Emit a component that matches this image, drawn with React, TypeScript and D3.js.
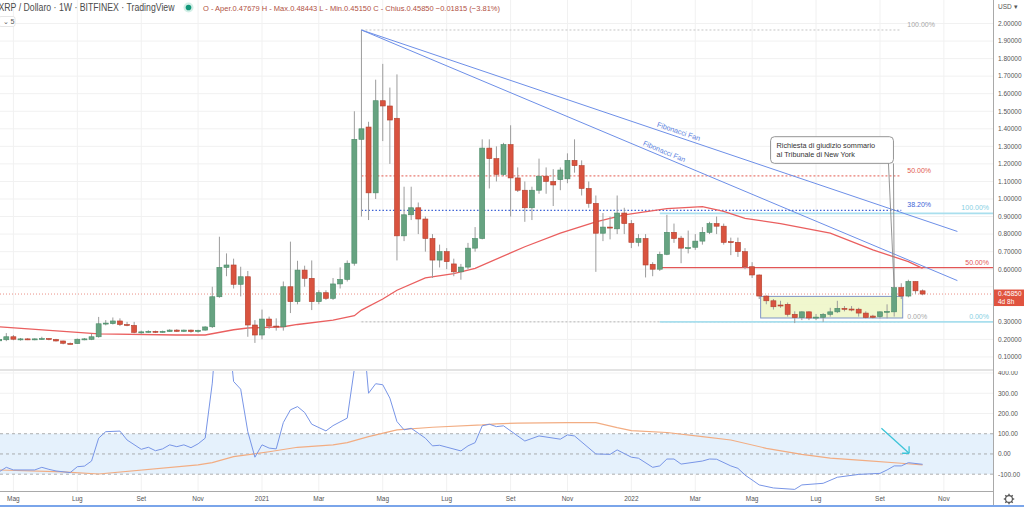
import * as d3 from "d3";

const WEEK = 7 * 24 * 3600 * 1000;
const firstWeek = Date.UTC(2020, 3, 20);

// weekly candles [open, high, low, close]
const candles: [number, number, number, number][] = [
  [0.192, 0.206, 0.186, 0.2], [0.198, 0.236, 0.19, 0.215], [0.215, 0.225, 0.195, 0.201], [0.2, 0.208, 0.193, 0.203],
  [0.203, 0.207, 0.196, 0.2], [0.199, 0.206, 0.195, 0.203], [0.203, 0.215, 0.198, 0.205], [0.205, 0.207, 0.195, 0.2],
  [0.2, 0.203, 0.188, 0.191], [0.191, 0.193, 0.172, 0.178], [0.177, 0.182, 0.172, 0.176], [0.176, 0.205, 0.174, 0.201],
  [0.2, 0.208, 0.195, 0.203], [0.2, 0.232, 0.196, 0.215], [0.215, 0.328, 0.21, 0.289], [0.289, 0.31, 0.28, 0.293],
  [0.29, 0.325, 0.285, 0.305], [0.305, 0.32, 0.276, 0.285], [0.285, 0.3, 0.275, 0.28], [0.28, 0.3, 0.235, 0.24],
  [0.241, 0.25, 0.232, 0.243], [0.242, 0.252, 0.238, 0.246], [0.246, 0.25, 0.236, 0.243], [0.242, 0.25, 0.238, 0.246],
  [0.245, 0.258, 0.243, 0.253], [0.253, 0.258, 0.243, 0.246], [0.246, 0.256, 0.242, 0.253], [0.253, 0.256, 0.238, 0.245],
  [0.245, 0.255, 0.238, 0.252], [0.253, 0.275, 0.25, 0.271], [0.272, 0.5, 0.265, 0.443], [0.443, 0.785, 0.437, 0.61],
  [0.61, 0.69, 0.56, 0.624], [0.624, 0.66, 0.49, 0.514], [0.514, 0.614, 0.445, 0.557], [0.557, 0.59, 0.215, 0.282],
  [0.282, 0.31, 0.18, 0.225], [0.225, 0.37, 0.2, 0.316], [0.316, 0.33, 0.26, 0.276], [0.276, 0.32, 0.25, 0.272],
  [0.272, 0.53, 0.25, 0.5], [0.5, 0.757, 0.35, 0.415], [0.415, 0.648, 0.4, 0.595], [0.595, 0.62, 0.5, 0.548],
  [0.548, 0.65, 0.367, 0.415], [0.415, 0.48, 0.4, 0.466], [0.466, 0.48, 0.425, 0.434], [0.434, 0.55, 0.425, 0.516],
  [0.516, 0.61, 0.49, 0.542], [0.542, 0.65, 0.53, 0.634], [0.634, 1.5, 0.62, 1.34], [1.34, 1.963, 0.9, 1.4],
  [1.41, 1.44, 0.88, 1.035], [1.035, 1.68, 1.0, 1.56], [1.56, 1.77, 1.33, 1.53], [1.53, 1.635, 1.2, 1.45],
  [1.46, 1.71, 0.65, 0.79], [0.79, 1.07, 0.76, 0.91], [0.91, 1.07, 0.88, 0.95], [0.95, 0.98, 0.8, 0.886],
  [0.886, 0.9, 0.7, 0.775], [0.775, 0.8, 0.55, 0.652], [0.652, 0.74, 0.61, 0.7], [0.7, 0.72, 0.6, 0.643],
  [0.63, 0.66, 0.56, 0.585], [0.585, 0.63, 0.54, 0.612], [0.612, 0.75, 0.6, 0.72], [0.72, 0.84, 0.7, 0.775],
  [0.775, 1.34, 0.77, 1.29], [1.29, 1.34, 1.06, 1.23], [1.23, 1.3, 1.1, 1.14], [1.14, 1.32, 1.13, 1.31],
  [1.31, 1.42, 0.9, 1.12], [1.12, 1.18, 1.04, 1.05], [1.05, 1.1, 0.87, 0.95], [0.95, 1.07, 0.88, 1.05],
  [1.05, 1.23, 1.03, 1.13], [1.13, 1.18, 1.03, 1.1], [1.1, 1.17, 0.96, 1.08], [1.11, 1.18, 1.05, 1.165],
  [1.115, 1.26, 1.09, 1.22], [1.22, 1.34, 1.15, 1.19], [1.19, 1.22, 1.02, 1.06], [1.06, 1.1, 0.95, 0.975],
  [0.975, 1.02, 0.585, 0.805], [0.805, 0.92, 0.76, 0.84], [0.84, 0.9, 0.77, 0.836], [0.83, 1.02, 0.8, 0.92],
  [0.92, 0.95, 0.8, 0.86], [0.86, 0.88, 0.72, 0.753], [0.753, 0.8, 0.73, 0.775], [0.775, 0.8, 0.553, 0.624],
  [0.628, 0.64, 0.56, 0.6], [0.6, 0.7, 0.59, 0.685], [0.685, 0.91, 0.68, 0.81], [0.81, 0.86, 0.75, 0.775],
  [0.777, 0.79, 0.634, 0.72], [0.72, 0.82, 0.69, 0.723], [0.725, 0.8, 0.71, 0.76], [0.76, 0.84, 0.74, 0.81],
  [0.81, 0.87, 0.8, 0.86], [0.86, 0.9, 0.8, 0.845], [0.845, 0.86, 0.74, 0.753], [0.757, 0.78, 0.68, 0.755],
  [0.753, 0.78, 0.67, 0.7], [0.7, 0.72, 0.6, 0.614], [0.614, 0.64, 0.55, 0.567], [0.567, 0.57, 0.43, 0.447],
  [0.447, 0.45, 0.4, 0.42], [0.42, 0.43, 0.37, 0.386], [0.396, 0.42, 0.38, 0.394], [0.4, 0.41, 0.33, 0.343],
  [0.343, 0.36, 0.293, 0.324], [0.324, 0.36, 0.31, 0.357], [0.357, 0.36, 0.31, 0.322], [0.326, 0.345, 0.31, 0.327],
  [0.326, 0.35, 0.3, 0.343], [0.343, 0.38, 0.33, 0.357], [0.357, 0.42, 0.35, 0.377], [0.377, 0.39, 0.36, 0.372],
  [0.373, 0.39, 0.36, 0.369], [0.372, 0.38, 0.33, 0.35], [0.35, 0.36, 0.32, 0.325], [0.333, 0.34, 0.32, 0.326],
  [0.33, 0.36, 0.32, 0.357], [0.355, 0.4, 0.32, 0.36], [0.357, 0.5, 0.33, 0.495], [0.495, 0.52, 0.43, 0.447],
  [0.447, 0.54, 0.44, 0.53], [0.53, 0.53, 0.46, 0.4768], [0.47679, 0.48443, 0.4515, 0.4585],
];

// red moving average (read at these weeks)
const maWeeks = [0, 14, 25, 29, 33, 35, 40, 42, 47, 50, 51, 54, 56, 60, 64, 67, 74, 79, 84, 88, 94, 99, 102, 105, 110, 117, 123, 128, 130];
const maValues = [0.272, 0.232, 0.225, 0.225, 0.255, 0.265, 0.272, 0.285, 0.31, 0.335, 0.367, 0.43, 0.48, 0.55, 0.575, 0.605, 0.728, 0.805, 0.87, 0.91, 0.945, 0.956, 0.93, 0.89, 0.86, 0.805, 0.71, 0.643, 0.605];

// lower pane oscillator (blue) and its average (orange)
const oscWeeks = [0, 1, 2, 5, 6, 7, 8, 10, 11, 12, 13, 14, 15, 17, 18, 20, 21, 22, 23, 24, 25, 26, 27, 28, 29, 30, 31, 32, 33, 34, 35, 36, 37, 38, 39, 40, 41, 42, 43, 44, 46, 47, 49, 50, 51, 52, 53, 54, 55, 56, 57, 58, 60, 61, 62, 65, 66, 67, 68, 69, 70, 71, 73, 74, 76, 79, 80, 81, 84, 86, 87, 89, 90, 92, 93, 94, 95, 96, 99, 100, 101, 103, 104, 105, 107, 109, 112, 113, 116, 118, 121, 124, 125, 126, 127, 128, 130];
const oscValues = [-88, -66, -79, -79, -66, -76, -84, -92, -63, -60, -35, 78, 110, 113, 69, 23, 33, 16, 25, 45, 36, 45, 31, 50, 78, 350, 800, 700, 358, 320, 110, -16, 45, 29, 25, 155, 218, 234, 205, 147, 114, 140, 177, 420, 700, 300, 347, 342, 276, 160, 119, 127, 78, 40, 43, 15, 40, 56, 139, 147, 135, 139, 89, 64, 89, 73, 94, 89, 0, -2, 20, -16, -21, -66, -59, -25, -25, -50, -35, -25, -26, -59, -71, -104, -153, -168, -175, -153, -145, -115, -101, -96, -79, -59, -59, -43, -51];
const sigWeeks = [0, 9, 14, 28, 30, 33, 38, 42, 47, 49, 52, 56, 61, 68, 70, 73, 80, 84, 87, 89, 94, 99, 103, 108, 113, 117, 122, 127, 130];
const sigValues = [-79, -89, -99, -54, -43, -13, 11, 33, 45, 56, 86, 119, 132, 144, 149, 152, 155, 155, 130, 115, 106, 86, 69, 28, -2, -21, -33, -46, -54];

const priceTicks = [0.1, 0.2, 0.3, 0.4, 0.5, 0.6, 0.7, 0.8, 0.9, 1.0, 1.1, 1.2, 1.3, 1.4, 1.5, 1.6, 1.7, 1.8, 1.9, 2.0];
const oscTicks = [400, 300, 200, 100, 0, -100];
const tickDates = ["2020-05-04", "2020-07-06", "2020-09-07", "2020-11-02", "2021-01-04", "2021-03-01", "2021-05-03", "2021-07-05", "2021-09-06", "2021-11-01", "2022-01-03", "2022-03-07", "2022-05-02", "2022-07-04", "2022-09-05", "2022-11-07"];
const tickLabels = ["Mag", "Lug", "Set", "Nov", "2021", "Mar", "Mag", "Lug", "Set", "Nov", "2022", "Mar", "Mag", "Lug", "Set", "Nov"];

// fibonacci drawings
const fib1 = { from: 51, to: 127, high: 1.963, low: 0.3 };
const fib1Levels = [1, 0.5, 0.382, 0];
const fib1Labels = ["100.00%", "50.00%", "38.20%", "0.00%"];
const fib1Colors = ["#c4c4c4", "#e25a4e", "#3d62d6", "#b8b8b8"];
const fib1TextColors = ["#a8a8a8", "#e25a4e", "#3d62d6", "#a8a8a8"];
const fib2 = { from: 93, high: 0.918, low: 0.3 };
const fib2Levels = [1, 0.5, 0];
const fib2Labels = ["100.00%", "50.00%", "0.00%"];
const fib2Colors = ["#a9dfee", "#e25555", "#a9dfee"];
const fib2TextColors = ["#86cfe3", "#e25555", "#86cfe3"];

const fanStart = { week: 51, price: 1.963 };
const fanEnds = [{ week: 134.9, price: 0.815 }, { week: 134.9, price: 0.535 }];
const fanLabelWeeks = [92.4, 90.4];

const lastPrice = 0.4585;
const rangeBox = { from: 107.2, to: 127.2, top: 0.445, bottom: 0.322 };
const callout = { from: 108.6, to: 125.9, top: 1.355, bottom: 1.203, tipWeek: 126, tipPrice: 0.495 };
const calloutText = ["Richiesta di giudizio sommario", "al Tribunale di New York"];
const oscArrow = { fromWeek: 124.2, fromValue: 127, toWeek: 128.1, toValue: 3.5 };

const FONT = "'Liberation Sans', Arial, sans-serif";

export default function App() {
  const W = 1024;
  const H = 507;
  const plotR = 993;
  const mainBottom = 370;
  const oscTop = 370.5;
  const oscBottom = 491;

  const x = d3
    .scaleUtc()
    .domain([new Date(firstWeek), new Date(firstWeek + 130 * WEEK)])
    .range([-0.8, -0.8 + 130 * 7.103]);
  const xw = (w: number) => x(new Date(firstWeek + w * WEEK));
  const y = d3.scaleLinear().domain([0, 2]).range([374.5, 23.5]);
  const yo = d3.scaleLinear().domain([-100, 400]).range([474.2, 373]);

  const maLine = d3
    .line<number>()
    .x((_, i) => xw(maWeeks[i]))
    .y((d) => y(d));
  const oscLine = d3
    .line<number>()
    .x((_, i) => xw(oscWeeks[i]))
    .y((d) => yo(d));
  const sigLine = d3
    .line<number>()
    .x((_, i) => xw(sigWeeks[i]))
    .y((d) => yo(d));

  const fanPts = fanEnds.map((e, i) => {
    const x1 = xw(fanStart.week);
    const y1 = y(fanStart.price);
    const x2 = xw(e.week);
    const y2 = y(e.price);
    const lx = xw(fanLabelWeeks[i]);
    const t = (lx - x1) / (x2 - x1);
    const ly = y1 + t * (y2 - y1);
    const ang = (Math.atan2(y2 - y1, x2 - x1) * 180) / Math.PI;
    return { x1, y1, x2, y2, lx, ly, ang };
  });

  const cbx1 = xw(callout.from);
  const cbx2 = xw(callout.to);
  const cby1 = y(callout.top);
  const cby2 = y(callout.bottom);

  const ax1 = xw(oscArrow.fromWeek);
  const ay1 = yo(oscArrow.fromValue);
  const ax2 = xw(oscArrow.toWeek);
  const ay2 = yo(oscArrow.toValue);

  // price label box on the axis hides the ticks beneath it
  const boxTop = y(lastPrice) - 4.5;
  const boxH = 16.5;
  const visibleTicks = priceTicks.filter((p) => y(p) < boxTop - 3 || y(p) > boxTop + boxH + 3);

  const gearTeeth = d3.range(8).map((k) => {
    const a = (k * Math.PI) / 4;
    return { x1: 1009 + Math.cos(a) * 3, y1: 499 + Math.sin(a) * 3, x2: 1009 + Math.cos(a) * 5.2, y2: 499 + Math.sin(a) * 5.2 };
  });

  return (
    <div style={{ position: "absolute", left: 0, top: 0 }}>
      <svg width={W} height={H} style={{ display: "block", fontFamily: FONT }}>
        <defs>
          <clipPath id="mainClip">
            <rect x={0} y={0} width={plotR} height={mainBottom} />
          </clipPath>
          <clipPath id="oscClip">
            <rect x={0} y={oscTop} width={plotR} height={oscBottom - oscTop} />
          </clipPath>
          <clipPath id="oscAxisClip">
            <rect x={plotR} y={oscTop + 0.5} width={W - plotR} height={oscBottom - oscTop} />
          </clipPath>
        </defs>
        <rect x={0} y={0} width={W} height={H} fill="#ffffff" />

        {/* grid */}
        {priceTicks.map((p) => (
          <line key={"hg" + p} x1={0} x2={plotR} y1={y(p)} y2={y(p)} stroke="#f1f1f1" strokeWidth={1} />
        ))}
        {oscTicks.slice(0, 3).map((v) => (
          <line key={"og" + v} x1={0} x2={plotR} y1={yo(v)} y2={yo(v)} stroke="#f1f1f1" strokeWidth={1} />
        ))}
        {tickDates.map((d) => (
          <line key={"vg" + d} x1={x(new Date(d))} x2={x(new Date(d))} y1={0} y2={oscBottom} stroke="#f1f1f1" strokeWidth={1} />
        ))}

        {/* oscillator pane */}
        <rect x={0} y={yo(100)} width={plotR} height={yo(-100) - yo(100)} fill="#e5f1fc" />
        {[100, 0, -100].map((v) => (
          <line key={"od" + v} x1={0} x2={plotR} y1={yo(v)} y2={yo(v)} stroke="#9a9a9a" strokeWidth={0.8} strokeDasharray="3,3" />
        ))}
        <g clipPath="url(#oscClip)">
          <path d={sigLine(sigValues) || ""} fill="none" stroke="#f2ad83" strokeWidth={1.2} />
          <path d={oscLine(oscValues) || ""} fill="none" stroke="#7895e6" strokeWidth={1} />
          <line x1={ax1} y1={ay1} x2={ax2} y2={ay2} stroke="#3ec4d8" strokeWidth={1.3} />
          <line x1={ax2} y1={ay2} x2={ax2} y2={ay2 - 7} stroke="#3ec4d8" strokeWidth={1.3} />
          <line x1={ax2} y1={ay2} x2={ax2 - 7} y2={ay2} stroke="#3ec4d8" strokeWidth={1.3} />
        </g>

        <g clipPath="url(#mainClip)">
          {/* fib retracement 1 */}
          {fib1Levels.map((r, i) => {
            const yy = y(fib1.low + r * (fib1.high - fib1.low));
            return (
              <g key={"f1" + i}>
                <line x1={xw(fib1.from)} x2={xw(fib1.to)} y1={yy} y2={yy} stroke={fib1Colors[i]} strokeWidth={i === 2 ? 1.4 : 1} strokeDasharray={i === 2 ? "1.5,2" : "2,2"} />
                <text x={xw(fib1.to) + 6} y={yy - 3} fontSize={7} fill={fib1TextColors[i]}>
                  {fib1Labels[i]}
                </text>
              </g>
            );
          })}
          {/* fib retracement 2 */}
          {fib2Levels.map((r, i) => {
            const yy = y(fib2.low + r * (fib2.high - fib2.low));
            return (
              <g key={"f2" + i}>
                <line x1={xw(fib2.from)} x2={plotR} y1={yy} y2={yy} stroke={fib2Colors[i]} strokeWidth={i === 1 ? 1.4 : 1.6} />
                <text x={989} y={yy - 3} fontSize={7} textAnchor="end" fill={fib2TextColors[i]}>
                  {fib2Labels[i]}
                </text>
              </g>
            );
          })}

          {/* last price line */}
          <line x1={0} x2={plotR} y1={y(lastPrice)} y2={y(lastPrice)} stroke="#e57368" strokeWidth={0.8} strokeDasharray="1,2" />

          {/* range box */}
          <rect
            x={xw(rangeBox.from)}
            y={y(rangeBox.top)}
            width={xw(rangeBox.to) - xw(rangeBox.from)}
            height={y(rangeBox.bottom) - y(rangeBox.top)}
            fill="#eef6c9"
            fillOpacity={0.9}
            stroke="#7f95c6"
            strokeWidth={1}
          />

          {/* moving average */}
          <path d={maLine(maValues) || ""} fill="none" stroke="#ea5f5f" strokeWidth={1.3} />

          {/* candles */}
          {candles.map(([o, h, l, c], i) => {
            const cx = xw(i);
            const up = c >= o;
            const top = y(Math.max(o, c));
            const bh = Math.max(1, y(Math.min(o, c)) - top);
            return (
              <g key={"c" + i}>
                <line x1={cx} x2={cx} y1={y(h)} y2={y(l)} stroke="#9c9c9c" strokeWidth={1} />
                <rect
                  x={cx - 2.5}
                  y={top}
                  width={5}
                  height={bh}
                  fill={up ? "#66a381" : "#d9533f"}
                  stroke={up ? "#4a8a67" : "#b23e2c"}
                  strokeWidth={0.6}
                />
              </g>
            );
          })}

          {/* fibonacci fan */}
          {fanPts.map((f, i) => (
            <g key={"fan" + i}>
              <line x1={f.x1} y1={f.y1} x2={f.x2} y2={f.y2} stroke="#6d8fe8" strokeWidth={1} />
              <text
                transform={`translate(${f.lx},${f.ly}) rotate(${f.ang}) translate(0,-3)`}
                fontSize={7.2}
                fill="#5b7fe0"
              >
                Fibonacci Fan
              </text>
            </g>
          ))}

          {/* callout */}
          <line x1={xw(callout.to) - 5} y1={cby2} x2={xw(callout.tipWeek)} y2={y(callout.tipPrice)} stroke="#8a8a8a" strokeWidth={0.9} />
          <line x1={xw(callout.to)} y1={cby2} x2={xw(callout.tipWeek)} y2={y(callout.tipPrice)} stroke="#8a8a8a" strokeWidth={0.9} />
          <rect x={cbx1} y={cby1} width={cbx2 - cbx1} height={cby2 - cby1} rx={4} fill="#ffffff" stroke="#8a8a8a" strokeWidth={0.9} />
          {calloutText.map((t, i) => (
            <text key={"ct" + i} x={cbx1 + 6} y={cby1 + 11 + i * 9} fontSize={7.3} fill="#333">
              {t}
            </text>
          ))}
        </g>

        {/* pane separators and axes */}
        <line x1={0} x2={plotR} y1={mainBottom} y2={mainBottom} stroke="#e3e3e3" strokeWidth={2} />
        <line x1={0} x2={plotR} y1={oscBottom + 0.5} y2={oscBottom + 0.5} stroke="#a9a9a9" strokeWidth={1} />
        <line x1={plotR + 0.5} x2={plotR + 0.5} y1={0} y2={H} stroke="#a9a9a9" strokeWidth={1} />

        <text x={998} y={9} fontSize={6.5} fill="#555">
          USD ▾
        </text>
        {visibleTicks.map((p) => (
          <text key={"pt" + p} x={998} y={y(p) + 2.3} fontSize={6.5} fill="#555">
            {p.toFixed(5)}
          </text>
        ))}
        <rect x={994} y={boxTop} width={30} height={boxH} fill="#e0533f" />
        <text x={998} y={boxTop + 6.8} fontSize={6.5} fill="#fff">
          {lastPrice.toFixed(5)}
        </text>
        <text x={998} y={boxTop + 14} fontSize={6.5} fill="#fff">
          4d 8h
        </text>

        <g clipPath="url(#oscAxisClip)">
          {oscTicks.map((v) => (
            <text key={"ot" + v} x={998} y={yo(v) + 2.3} fontSize={6.5} fill="#555">
              {v.toFixed(2)}
            </text>
          ))}
        </g>

        {tickDates.map((d, i) => (
          <text key={"tl" + d} x={x(new Date(d))} y={500.5} fontSize={6.5} fill="#555" textAnchor="middle">
            {tickLabels[i]}
          </text>
        ))}

        {/* gear */}
        <circle cx={1009} cy={499} r={3.4} fill="none" stroke="#555" strokeWidth={1.1} />
        {gearTeeth.map((g, i) => (
          <line key={"gt" + i} x1={g.x1} y1={g.y1} x2={g.x2} y2={g.y2} stroke="#555" strokeWidth={1.4} />
        ))}
        <line x1={0} x2={W} y1={506} y2={506} stroke="#7aa5ea" strokeWidth={2} />

        {/* header */}
        <text x={-1.5} y={11} fontSize={10} fill="#4b4b4b" textLength={176} lengthAdjust="spacingAndGlyphs">
          XRP / Dollaro · 1W · BITFINEX · TradingView
        </text>
        <circle cx={188.5} cy={7.5} r={5} fill="#d3efe7" />
        <circle cx={188.5} cy={7.5} r={2.8} fill="#12977a" />
        <text x={203} y={10.5} fontSize={8} fill="#b0503f" textLength={297} lengthAdjust="spacingAndGlyphs">
          O - Aper.0.47679 H - Max.0.48443 L - Min.0.45150 C - Chius.0.45850 −0.01815 (−3.81%)
        </text>
        <rect x={-1} y={16.5} width={16} height={10} rx={2} fill="#fff" stroke="#e0e0e0" strokeWidth={0.8} />
        <text x={2.5} y={24} fontSize={7} fill="#555">
          ⌄ 5
        </text>
      </svg>
    </div>
  );
}
